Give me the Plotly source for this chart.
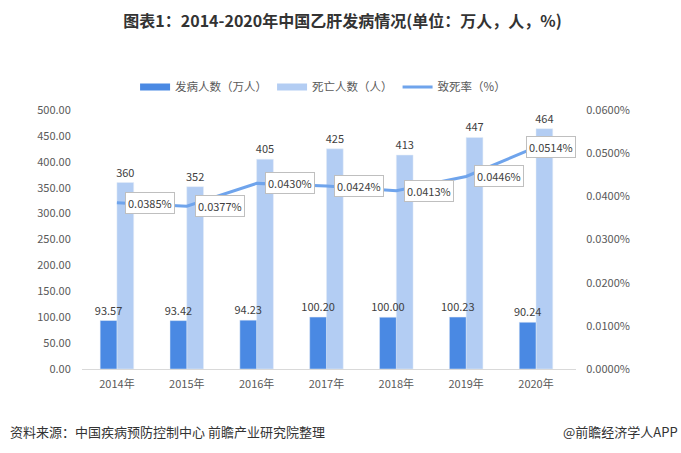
import plotly.graph_objects as go

years = ["2014年", "2015年", "2016年", "2017年", "2018年", "2019年", "2020年"]
incidence = [93.57, 93.42, 94.23, 100.20, 100.00, 100.23, 90.24]
deaths = [360, 352, 405, 425, 413, 447, 464]
fatality = [0.0385, 0.0377, 0.0430, 0.0424, 0.0413, 0.0446, 0.0514]

FONT = "Noto Sans CJK SC, Noto Sans, sans-serif"
DARK = "#4A89E3"
LIGHT = "#B3CDF3"
LINE = "#6FA4EC"
BW = 0.24

fig = go.Figure()
# light bars drawn first so the dark-bar labels sit on top of them
fig.add_trace(go.Bar(
    x=years, y=deaths, name="死亡人数（人）", marker_color=LIGHT,
    width=BW, offset=0, showlegend=False,
    text=[str(v) for v in deaths], textposition="outside",
    textfont=dict(size=11, color="#404040", family=FONT),
    constraintext="none", cliponaxis=False,
))
fig.add_trace(go.Bar(
    x=years, y=incidence, name="发病人数（万人）", marker_color=DARK,
    width=BW, offset=-BW, showlegend=False,
    text=[f"{v:.2f}" for v in incidence], textposition="outside",
    textfont=dict(size=11, color="#404040", family=FONT),
    constraintext="none", cliponaxis=False,
))
fig.add_trace(go.Scatter(
    x=years, y=fatality, name="致死率（%）", mode="lines",
    line=dict(color=LINE, width=3), yaxis="y2", showlegend=False,
))

# legend entries (wide rectangular swatches as in the reference)
for name, color, w in [("发病人数（万人）", DARK, 7), ("死亡人数（人）", LIGHT, 7), ("致死率（%）", LINE, 3)]:
    fig.add_trace(go.Scatter(
        x=[None], y=[None], mode="lines", name=name,
        line=dict(color=color, width=w), showlegend=True,
    ))

annotations = []
for i, (yr, v) in enumerate(zip(years, fatality)):
    annotations.append(dict(
        x=yr, y=v, xref="x", yref="y2", text=f"{v:.4f}%",
        showarrow=False, xanchor="left", yanchor="middle",
        xshift=(-10 if i == len(years) - 1 else 8),
        bgcolor="white", bordercolor="#BFBFBF", borderwidth=1, borderpad=2,
        font=dict(size=11, color="#404040", family=FONT),
    ))

annotations.append(dict(
    x=-0.15, y=-0.243, xref="paper", yref="paper",
    text="资料来源：中国疾病预防控制中心 前瞻产业研究院整理",
    showarrow=False, xanchor="left", yanchor="middle",
    font=dict(size=13, color="#333333", family=FONT),
))
annotations.append(dict(
    x=1.2105, y=-0.243, xref="paper", yref="paper",
    text="@前瞻经济学人APP",
    showarrow=False, xanchor="right", yanchor="middle",
    font=dict(size=13, color="#333333", family=FONT),
))

fig.update_layout(
    width=681, height=453,
    margin=dict(l=82, r=105, t=110, b=84),
    paper_bgcolor="white", plot_bgcolor="white",
    barmode="overlay",
    title=dict(
        text="<b>图表1：2014-2020年中国乙肝发病情况(单位：万人，人，%)</b>",
        x=0.503, xanchor="center", y=0.952, yanchor="middle",
        font=dict(size=16, color="#333333", family=FONT),
    ),
    legend=dict(
        orientation="h", x=0.488, xanchor="center", y=1.089, yanchor="middle",
        font=dict(size=11.5, color="#595959", family=FONT),
        bgcolor="rgba(0,0,0,0)", traceorder="normal",
    ),
    xaxis=dict(
        showgrid=False, showline=True, linecolor="#D9D9D9", linewidth=1,
        ticks="outside", ticklen=5, tickcolor="rgba(0,0,0,0)",
        tickfont=dict(size=11, color="#595959", family=FONT),
    ),
    yaxis=dict(
        range=[0, 500], dtick=50, tickformat=".2f", showgrid=False,
        zeroline=False, showline=False,
        ticks="outside", ticklen=8, tickcolor="rgba(0,0,0,0)",
        tickfont=dict(size=11, color="#595959", family=FONT),
    ),
    yaxis2=dict(
        range=[0, 0.06], dtick=0.01, tickformat=".4f", ticksuffix="%",
        overlaying="y", side="right", showgrid=False, zeroline=False,
        ticks="outside", ticklen=7, tickcolor="rgba(0,0,0,0)",
        tickfont=dict(size=11, color="#595959", family=FONT),
    ),
    annotations=annotations,
)

fig.write_html("out.html")
